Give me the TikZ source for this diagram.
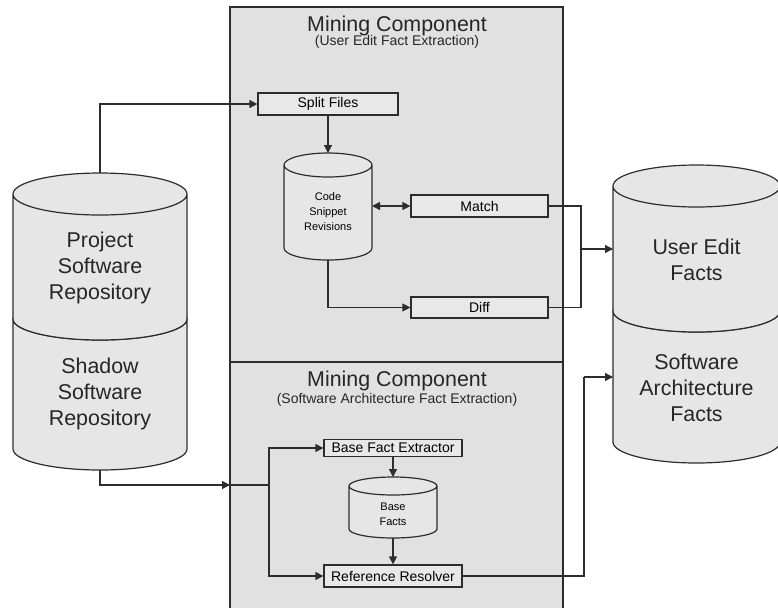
\documentclass[tikz,border=0pt]{standalone}
\usepackage{fontspec}
\setmainfont{Liberation Sans}
\usepackage{xcolor}
\definecolor{linegray}{RGB}{45,45,45}
\definecolor{panelgray}{RGB}{225,225,225}
\definecolor{cylgray}{RGB}{230,230,230}
\definecolor{boxgray}{RGB}{232,232,232}
\usetikzlibrary{arrows.meta, positioning, calc}

% cylinder outline round a named store node: #1 node, #2 ellipse radius
\newcommand{\drawstore}[2]{%
  \path let \p1=(#1.north west), \p2=(#1.south east), \n1={(\x2-\x1)/2} in
    [draw=linegray, fill=cylgray]
    (\x1,\y1-#2) -- (\x1,\y2+#2)
      arc[start angle=180, end angle=360, x radius=\n1, y radius=#2]
      -- (\x2,\y1-#2)
      arc[start angle=0, end angle=180, x radius=\n1, y radius=#2] -- cycle
    (\x1,\y1-#2) arc[start angle=180, end angle=360, x radius=\n1, y radius=#2];
}

\begin{document}
\begin{tikzpicture}[x=0.5pt, y=-0.5pt, line width=0.6pt,
    box/.style={rectangle, draw=linegray, fill=boxgray, minimum width=68.5pt,
                minimum height=11pt, inner sep=0pt, font=\fontsize{7}{8}\selectfont},
    store/.style={rectangle, inner sep=0pt, outer sep=0pt},
    bigtext/.style={align=center, font=\fontsize{10.7}{13}\selectfont, text=black!85},
    smalltext/.style={align=center, font=\fontsize{5.5}{7.5}\selectfont},
    title/.style={font=\fontsize{10.7}{12}\selectfont, text=black!85},
    subtitle/.style={font=\fontsize{7}{8}\selectfont, text=black!85},
    arr/.style={-{Triangle[length=4pt,width=4pt]}, color=linegray},
    line/.style={color=linegray}
]
    \useasboundingbox (0,0) rectangle (778,607);

    % mining component panels
    \fill[panelgray] (230,7) rectangle (563,608);
    \draw[line] (230,608) -- (230,7) -- (563,7) -- (563,608);
    \draw[line] (230,362) -- (563,362);
    \node[title]    (ueTitle) at (397,26)  {Mining Component};
    \node[subtitle] (ueSub)   at (397,42)  {(User Edit Fact Extraction)};
    \node[title]    (saTitle) at (397,381) {Mining Component};
    \node[subtitle] (saSub)   at (397,400) {(Software Architecture Fact Extraction)};

    % repositories (left) and fact stores (right)
    \node[store, minimum width=87pt, minimum height=86pt]   (shadow) at (100,384) {};
    \node[store, minimum width=87pt, minimum height=83.5pt] (proj)   at (100,256.5) {};
    \drawstore{shadow}{10.5pt}
    \drawstore{proj}{10.5pt}
    \node[bigtext] (projTxt)   at (100,268) {Project\\Software\\Repository};
    \node[bigtext] (shadowTxt) at (100,394) {Shadow\\Software\\Repository};

    \node[store, minimum width=83.5pt, minimum height=86.5pt] (saf) at (696.5,376.5) {};
    \node[store, minimum width=83.5pt, minimum height=83.5pt] (uef) at (696.5,248.5) {};
    \drawstore{saf}{10.5pt}
    \drawstore{uef}{10.5pt}
    \node[bigtext] (uefTxt) at (696.5,260) {User Edit\\Facts};
    \node[bigtext] (safTxt) at (696.5,388) {Software\\Architecture\\Facts};

    % user edit fact extraction
    \node[box, minimum width=70pt] (split) at (328,104) {Split Files};
    \node[store, minimum width=44pt, minimum height=53.5pt] (snip) at (328,206.5) {};
    \drawstore{snip}{6pt}
    \node[smalltext] (snipTxt) at (328,212) {Code\\Snippet\\Revisions};
    \node[box] (match) at (479.5,206)   {Match};
    \node[box, minimum height=10.5pt] (diff) at (479.5,307.5) {Diff};

    % software architecture fact extraction
    \node[box, minimum width=69pt, minimum height=8.5pt] (bfe) at (393,448) {Base Fact Extractor};
    \node[store, minimum width=44pt, minimum height=30.5pt] (bf) at (393,507.5) {};
    \drawstore{bf}{4.5pt}
    \node[smalltext] (bfTxt) at (393,514) {Base\\Facts};
    \node[box, minimum width=69pt] (rr) at (393,576) {Reference Resolver};

    \coordinate (ueJoin) at (581,249);
    \coordinate (saJoin) at (584,377);
    \coordinate (saEntry) at (230,485);
    \coordinate (saJoinL) at (269,485);

    \draw[arr] (proj.north) |- (split.west);
    \draw[arr] (split.south) -- (snip.north);
    \draw[{Triangle[length=4pt,width=4pt]}-{Triangle[length=4pt,width=4pt]}, line]
        (snip.east |- match.west) -- (match.west);
    \draw[arr] (snip.south) |- (diff.west);
    \draw[line] (match.east) -| (ueJoin);
    \draw[line] (diff.east) -| (ueJoin);
    \draw[arr] (ueJoin) -- (ueJoin -| uef.west);

    \draw[arr] (shadow.south) |- (saEntry);
    \draw[line] (saEntry) -- (saJoinL);
    \draw[arr] (saJoinL) |- (bfe.west);
    \draw[arr] (saJoinL) |- (rr.west);
    \draw[arr] (bfe.south) -- (bf.north);
    \draw[arr] (bf.south) -- (rr.north);
    \draw[line] (rr.east) -| (saJoin);
    \draw[arr] (saJoin) -- (saJoin -| saf.west);
\end{tikzpicture}
\end{document}
